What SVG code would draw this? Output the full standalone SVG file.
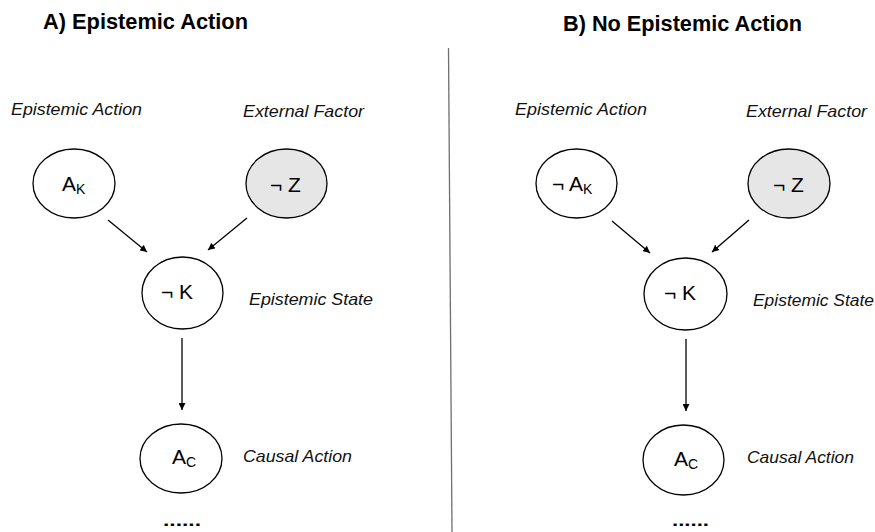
<svg xmlns="http://www.w3.org/2000/svg" width="875" height="532" viewBox="0 0 875 532">
<defs>
<marker id="ah" viewBox="0 0 10 10" refX="10" refY="5" markerWidth="7" markerHeight="7" markerUnits="userSpaceOnUse" orient="auto">
<path d="M0,0 L10,5 L0,10 z" fill="#000"/>
</marker>
<style>
.title{font-family:"Liberation Sans",Arial,sans-serif;font-weight:bold;font-size:21.5px;fill:#000}
.lab{font-family:"Liberation Sans",Arial,sans-serif;font-style:italic;font-size:17px;fill:#111}
.nt{font-family:"Liberation Sans",Arial,sans-serif;font-size:21px;fill:#000}
.sub{font-size:14px}
.node{fill:#fff;stroke:#000;stroke-width:1.3}
.shaded{fill:#e6e6e6}
.edge{stroke:#000;stroke-width:1.3;fill:none;marker-end:url(#ah)}
.dots{font-family:"Liberation Sans",Arial,sans-serif;font-weight:bold;font-size:16px;fill:#000}
</style>
</defs>
<rect width="875" height="532" fill="#fff"/>

<text class="title" x="43" y="29" textLength="205" lengthAdjust="spacingAndGlyphs">A) Epistemic Action</text>
<text class="title" x="563" y="31" textLength="239" lengthAdjust="spacingAndGlyphs">B) No Epistemic Action</text>
<line x1="448.5" y1="48" x2="452" y2="532" stroke="#6f6f6f" stroke-width="1.3"/>

<g id="labels">
<text class="lab" x="11" y="115" textLength="131" lengthAdjust="spacingAndGlyphs">Epistemic Action</text>
<text class="lab" x="243" y="117" textLength="121" lengthAdjust="spacingAndGlyphs">External Factor</text>
<text class="lab" x="249" y="305" textLength="124" lengthAdjust="spacingAndGlyphs">Epistemic State</text>
<text class="lab" x="243" y="462" textLength="109" lengthAdjust="spacingAndGlyphs">Causal Action</text>
<text class="lab" x="515" y="115" textLength="132" lengthAdjust="spacingAndGlyphs">Epistemic Action</text>
<text class="lab" x="746" y="117" textLength="121" lengthAdjust="spacingAndGlyphs">External Factor</text>
<text class="lab" x="753" y="306" textLength="121" lengthAdjust="spacingAndGlyphs">Epistemic State</text>
<text class="lab" x="747" y="463" textLength="107" lengthAdjust="spacingAndGlyphs">Causal Action</text>
<text class="dots" x="163" y="526" textLength="38" lengthAdjust="spacingAndGlyphs">......</text>
<text class="dots" x="672" y="526" textLength="37" lengthAdjust="spacingAndGlyphs">......</text>
</g>

<g id="edges">
<line class="edge" x1="108" y1="220" x2="147" y2="252"/>
<line class="edge" x1="247" y1="218" x2="208" y2="250"/>
<line class="edge" x1="182" y1="338" x2="182" y2="410"/>
<line class="edge" x1="612" y1="221" x2="650" y2="253"/>
<line class="edge" x1="749" y1="220" x2="712" y2="252"/>
<line class="edge" x1="686" y1="339" x2="686" y2="411"/>
</g>

<g id="A_AK">
<ellipse class="node" cx="74" cy="183.5" rx="41" ry="34.5"/>
<text class="nt" x="62" y="191">A<tspan class="sub" dy="3">K</tspan></text>
</g>
<g id="A_Z">
<ellipse class="node shaded" cx="286.5" cy="183.5" rx="40.5" ry="34.5"/>
<text class="nt" x="270" y="192">¬ Z</text>
</g>
<g id="A_K">
<ellipse class="node" cx="182.5" cy="293" rx="40.5" ry="36"/>
<text class="nt" x="161" y="299">¬ K</text>
</g>
<g id="A_AC">
<ellipse class="node" cx="181" cy="458.5" rx="41" ry="34.5"/>
<text class="nt" x="172" y="464">A<tspan class="sub" dy="3">C</tspan></text>
</g>

<g id="B_AK">
<ellipse class="node" cx="576.5" cy="183.5" rx="40.5" ry="34.5"/>
<text class="nt" x="552" y="191">¬ A<tspan class="sub" dy="3">K</tspan></text>
</g>
<g id="B_Z">
<ellipse class="node shaded" cx="789" cy="183.5" rx="41" ry="34.5"/>
<text class="nt" x="773" y="192">¬ Z</text>
</g>
<g id="B_K">
<ellipse class="node" cx="685.5" cy="294" rx="41.5" ry="36"/>
<text class="nt" x="664" y="300">¬ K</text>
</g>
<g id="B_AC">
<ellipse class="node" cx="683.5" cy="460" rx="40.5" ry="35"/>
<text class="nt" x="674" y="466">A<tspan class="sub" dy="3">C</tspan></text>
</g>
</svg>
